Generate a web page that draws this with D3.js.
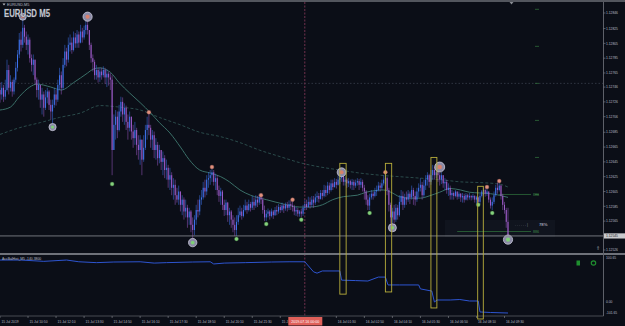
<!DOCTYPE html>
<html><head><meta charset="utf-8">
<script src="https://cdn.jsdelivr.net/npm/d3@7/dist/d3.min.js"></script>
<style>
html,body{margin:0;padding:0;background:#0b0e17;}
svg{display:block;font-family:"Liberation Sans",Arial,sans-serif;}
</style></head><body>
<svg id="chart" width="625" height="326"></svg>
<script>
// EURUSD M5, 15 Jul 09:30 .. 16 Jul 09:40, one entry per bar
// prices are points (0.00001) above 1.12500, open = previous close
const BASE = 1.125;
const firstOpen = 242;
const closes = [236,245,233,242,269,245,253,240,256,272,290,310,303,326,
  314,303,310,285,276,283,256,242,249,229,236,218,232,240,222,213,222,
  236,229,249,262,245,276,294,283,303,306,296,313,305,317,306,321,313,323,330,323,
  303,285,280,262,269,259,267,262,269,259,264,259,256,161,195,
  206,188,213,226,209,218,199,191,206,186,177,188,168,161,175,148,164,188,195,191,175,181,161,168,150,161,145,150,134,137,121,127,110,114,100,94,105,87,94,78,83,70,78,60,53,67,80,78,94,97,110,105,121,123,127,131,
  118,123,107,99,105,87,80,90,73,78,67,60,53,64,73,78,72,80,86,80,88,83,91,86,94,90,98,94,80,70,75,78,72,78,73,80,78,84,80,86,82,87,83,88,86,84,78,80,75,78,75,83,
  88,84,91,87,94,90,97,99,95,103,99,107,103,113,107,116,111,118,114,121,123,127,118,121,116,119,114,118,113,117,119,114,118,110,105,94,86,97,102,99,105,107,113,110,116,121,123,107,
  87,70,78,67,83,73,91,99,87,97,94,102,97,107,99,94,105,110,114,100,113,121,127,118,127,134,127,131,127,121,127,116,118,107,110,100,103,99,105,98,102,97,99,94,100,97,99,97,99,94,97,91,99,105,107,102,105,94,86,91,100,110,107,113,99,87,80,64,45];
const highs = [252,253,249,256,283,276,262,256,259,280,296,319,321,341,
  330,321,317,313,290,290,283,259,256,249,245,240,242,245,242,229,229,
  245,242,256,272,267,285,303,299,313,317,313,321,319,323,321,330,326,329,337,341,
  323,306,290,283,276,272,272,272,274,272,270,267,265,262,209,
  215,213,222,233,232,224,221,209,213,206,195,199,191,181,181,175,181,195,206,212,195,188,186,177,172,168,161,159,154,148,141,137,131,123,121,110,113,105,100,97,94,87,83,80,70,73,87,94,100,107,118,121,127,131,134,138,
  134,129,127,113,110,107,94,94,91,83,80,73,70,73,83,86,83,87,94,91,94,91,99,97,100,99,102,103,97,86,80,82,80,82,80,84,86,88,87,90,88,90,91,93,93,93,87,84,83,80,82,87,
  94,94,98,97,99,99,102,105,103,107,107,114,113,118,117,121,121,123,122,127,129,131,127,125,123,123,121,122,121,121,123,122,123,121,114,107,100,102,107,105,110,113,118,117,121,127,130,125,
  110,90,83,87,88,87,100,107,105,102,105,107,105,113,110,105,110,116,123,118,121,127,131,129,134,141,138,140,140,130,131,127,123,121,116,113,107,105,107,105,105,103,103,102,103,102,103,100,102,100,99,98,102,107,110,109,111,105,97,97,105,114,117,119,114,102,91,83,83];
const lows = [225,229,226,229,240,236,240,233,236,252,267,285,294,299,
  306,296,290,279,267,262,249,232,229,218,209,206,215,224,215,202,192,
  218,221,226,242,236,242,272,274,279,294,291,294,299,299,299,305,306,310,317,317,
  296,279,267,256,256,252,253,256,259,250,246,248,242,127,161,
  175,177,186,206,199,195,188,175,186,175,164,168,154,148,141,127,145,161,175,181,164,161,150,148,140,143,134,127,123,121,110,107,100,94,87,90,87,78,73,67,70,56,60,50,40,46,60,70,73,87,94,97,100,110,114,118,
  113,107,100,91,87,80,72,73,64,60,56,50,45,45,60,70,67,70,78,75,78,78,80,80,83,84,87,88,75,65,65,70,67,70,68,72,73,75,76,78,76,79,78,80,80,78,73,72,71,71,70,72,
  80,80,83,82,84,83,87,91,90,94,94,97,98,100,102,105,107,110,109,113,115,118,113,113,110,111,109,107,107,110,113,107,110,105,94,87,80,80,94,94,97,99,105,105,107,113,115,100,
  78,60,60,61,64,67,71,87,80,83,87,91,88,94,87,86,91,97,105,94,97,107,113,110,114,121,121,123,118,113,115,110,107,102,99,94,94,94,97,94,95,91,90,90,93,93,94,93,94,90,88,86,88,97,100,98,99,90,82,80,88,98,102,105,94,80,75,56,42];

// moving averages: bar index / points
const maFastBars = [0,6,11,17,21,29,35,42,50,53,57,61,63,68,74,80,86,91,97,103,108,114,120,126,131,137,143,152,162,171,177,184,190,196,204,209,219,224,228,234,240,245,251,257,263,268,274,280,285,290];
const maFastVals = [215,219,233,246,250,246,242,252,265,270,272,269,266,252,238,225,211,198,184,165,148,134,130,125,118,107,100,94,88,84,84,87,94,98,100,104,107,103,98,96,96,99,104,109,107,104,103,102,100,97];
const maSlowBars = [0,11,23,34,46,57,68,80,91,103,114,126,137,148,160,171,183,194,205,217,228,240,251,263,274,285,290];
const maSlowVals = [182,191,198,205,211,221,219,215,205,195,185,179,171,161,152,144,138,134,130,127,125,123,121,118,117,115,111];

// swing markers
const bigBars = [13,30,50,110,195,224,251,290];
const bigVals = [341,192,341,36,131,56,138,40];
const bigKind = ['hi','lo','hi','lo','hi','lo','hi','lo'];
const bigR = [3.5,3.6,4.6,4.2,4.4,4,5,4.6];
const dotHiBars = [85,121,149,167,220,278,285];
const dotHiVals = [212,138,100,94,131,111,119];
const dotLoBars = [64,135,152,172,211,273,281];
const dotLoVals = [115,41,61,67,76,87,76];

// trade boxes (bar from, bar to, top price pts, bottom balance value)
const boxFrom = [194,220,246,272.7];
const boxTo = [197.6,223.6,249.4,275.9];
const boxTop = [143,143,151,112];
const boxBottom = [18,23,-55,-157];

// account balance sub-window
const balBars = [0,12,25,38,45,55,65,80,88,95,110,120,122,128,140,155,165,174,179,181,184,194,195,203,210,216,220,221.5,228,239,240,246.5,248,249.5,257,262.5,268,273,274,280,290];
const balVals = [96,96,93,96,92,90,91.5,92,89,90,91.5,92,87,89,90,91.5,92,92,69,66,71,71,50,49,48,57,57,39,39,39,30,25,0,4.6,4.6,5.7,2.3,2.3,-92,-97,-101.65];

const priceTicks = [1.12846,1.12825,1.12805,1.12785,1.12765,1.12746,1.12726,1.12706,1.12685,1.12665,1.12645,1.12625,1.12605,1.12585,1.12565,1.12526];
const bidPrice = 1.12545;
const dottedLevel = 1.12751;
const roundLevels = [1.12851,1.12801,1.12751,1.12701,1.12651,1.12601,1.12551];
const subTicks = [100.65, 0, -101.65];
const subTickText = ['100.65','0.00','-101.65'];
const timeBars = [0,16,32,48,64,80,96,112,128,144,160,192,208,224,240,256,272,288];
const timeLabels = ['15 Jul 2019','15 Jul 10:50','15 Jul 12:10','15 Jul 13:30','15 Jul 14:50','15 Jul 16:10','15 Jul 17:30','15 Jul 18:50','15 Jul 20:10','15 Jul 21:30','15 J','16 Jul 01:30','16 Jul 02:50','16 Jul 04:10','16 Jul 05:30','16 Jul 06:50','16 Jul 08:10','16 Jul 09:30'];
const crossBar = 174;
const crossText = '2019.07.16 00:00';

const W = 625, H = 326, axisX = 603.5;
const svg = d3.select('#chart');
const px = v => BASE + v / 100000;

const x = d3.scaleLinear().domain([0, 290]).range([0, 508]);
const y = d3.scaleLinear().domain([1.12846, 1.12526]).range([13, 250]);
const ySub = d3.scaleLinear().domain([-101.65, 0, 100.65]).range([313, 302, 258]);

svg.append('rect').attr('width', W).attr('height', H).attr('fill', '#0b0e17');

const defs = svg.append('defs');
defs.append('clipPath').attr('id', 'mainClip').append('rect')
  .attr('x', 0).attr('y', 2).attr('width', axisX).attr('height', 251);
defs.append('clipPath').attr('id', 'subClip').append('rect')
  .attr('x', 0).attr('y', 256).attr('width', axisX).attr('height', 60);

const main = svg.append('g').attr('clip-path', 'url(#mainClip)');

// horizontal dotted level
main.append('line')
  .attr('x1', 0).attr('x2', axisX).attr('y1', y(dottedLevel)).attr('y2', y(dottedLevel))
  .attr('stroke', '#3a3f4c').attr('stroke-dasharray', '1.5,2').attr('stroke-width', 0.8);

// small round-level marks
main.selectAll('.lvl').data(roundLevels).join('line')
  .attr('x1', 535).attr('x2', 539).attr('y1', d => y(d)).attr('y2', d => y(d))
  .attr('stroke', '#2f6b3a').attr('stroke-width', 0.8);

// fib box area near the right
main.append('rect').attr('x', 445).attr('y', 220).attr('width', 110).attr('height', 17)
  .attr('fill', '#10141e');
main.append('line').attr('x1', x(285)).attr('x2', 531).attr('y1', y(roundLevels[5])).attr('y2', y(roundLevels[5]))
  .attr('stroke', '#2d6b3a').attr('stroke-width', 0.8);
main.append('line').attr('x1', x(261)).attr('x2', 531).attr('y1', y(roundLevels[6])).attr('y2', y(roundLevels[6]))
  .attr('stroke', '#2d6b3a').attr('stroke-width', 0.8);
main.append('text').attr('x', 533).attr('y', y(roundLevels[5]) + 1.5).attr('font-size', 3.6)
  .attr('fill', '#3f8a4a').text('886');
main.append('text').attr('x', 533).attr('y', y(roundLevels[6]) + 1.5).attr('font-size', 3.6)
  .attr('fill', '#3f8a4a').text('886');
main.append('text').attr('x', 515).attr('y', 225.5).attr('font-size', 3.6)
  .attr('fill', '#8a8d96').text('. . . . . . |');
main.append('text').attr('x', 539).attr('y', 225.5).attr('font-size', 4.2)
  .attr('fill', '#d8dae0').text('78%');

// vertical crosshair line
svg.append('line')
  .attr('x1', x(crossBar)).attr('x2', x(crossBar)).attr('y1', 2).attr('y2', 316)
  .attr('stroke', '#8c3a5c').attr('stroke-dasharray', '2,1.5').attr('stroke-width', 0.8);

// moving averages
const maLine = d3.line().x(d => x(d[0])).y(d => y(px(d[1]))).curve(d3.curveMonotoneX);
main.append('path').datum(d3.zip(maSlowBars, maSlowVals)).attr('d', maLine)
  .attr('fill', 'none').attr('stroke', '#2b4b4b').attr('stroke-width', 1)
  .attr('stroke-dasharray', '3,2');
main.append('path').datum(d3.zip(maFastBars, maFastVals)).attr('d', maLine)
  .attr('fill', 'none').attr('stroke', '#3b6f68').attr('stroke-width', 1);

// candles
const bars = closes.map((c, i) => {
  const o = i === 0 ? firstOpen : closes[i - 1];
  return {i, o, c, h: Math.max(highs[i], o, c), l: Math.min(lows[i], o, c)};
});
const candleColor = d => Math.abs(d.c - d.o) <= 1 ? '#d08a2c' : (d.c > d.o ? '#3f74f0' : '#a05ccc');
const cg = main.append('g');
cg.selectAll('line').data(bars).join('line')
  .attr('x1', d => x(d.i)).attr('x2', d => x(d.i))
  .attr('y1', d => y(px(d.h))).attr('y2', d => y(px(d.l)))
  .attr('stroke', candleColor).attr('stroke-width', 0.5);
cg.selectAll('rect').data(bars).join('rect')
  .attr('x', d => x(d.i) - 0.5).attr('width', 1)
  .attr('y', d => y(px(Math.max(d.o, d.c))))
  .attr('height', d => Math.max(0.8, y(px(Math.min(d.o, d.c))) - y(px(Math.max(d.o, d.c)))))
  .attr('fill', candleColor);

// bid line
svg.append('line').attr('x1', 0).attr('x2', axisX).attr('y1', y(bidPrice)).attr('y2', y(bidPrice))
  .attr('stroke', '#8b8e96').attr('stroke-width', 0.8);

// swing markers
const bigData = d3.range(bigBars.length).map(k => ({b: bigBars[k], v: bigVals[k], kind: bigKind[k], r: bigR[k]}));
main.selectAll('.big').data(bigData).join('circle')
  .attr('cx', d => x(d.b)).attr('cy', d => y(px(d.v))).attr('r', d => d.r)
  .attr('fill', '#8b8aa6').attr('stroke', '#c9c9d8').attr('stroke-width', 0.8);
main.selectAll('.bigIn').data(bigData).join('circle')
  .attr('cx', d => x(d.b)).attr('cy', d => y(px(d.v))).attr('r', d => d.r * 0.45)
  .attr('fill', d => d.kind === 'hi' ? '#d8806c' : '#7fcf78');
main.selectAll('.dh').data(d3.zip(dotHiBars, dotHiVals)).join('circle')
  .attr('cx', d => x(d[0])).attr('cy', d => y(px(d[1]))).attr('r', 2)
  .attr('fill', '#e0907c').attr('stroke', '#7a4a48').attr('stroke-width', 0.4);
main.selectAll('.dl').data(d3.zip(dotLoBars, dotLoVals)).join('circle')
  .attr('cx', d => x(d[0])).attr('cy', d => y(px(d[1]))).attr('r', 2)
  .attr('fill', '#84d07c').attr('stroke', '#3d6a3c').attr('stroke-width', 0.4);

// frame lines
svg.append('rect').attr('x', 0).attr('y', 0).attr('width', W).attr('height', 2).attr('fill', '#53565e');
svg.append('rect').attr('x', 0).attr('y', 253).attr('width', W).attr('height', 2).attr('fill', '#6f727a');
svg.append('line').attr('x1', 0).attr('x2', axisX).attr('y1', 316).attr('y2', 316).attr('stroke', '#484b53').attr('stroke-width', 1);
svg.append('line').attr('x1', axisX).attr('x2', axisX).attr('y1', 2).attr('y2', 316).attr('stroke', '#5d6069').attr('stroke-width', 1);
svg.append('path').attr('d', `M${x(292) - 2},2 L${x(292) + 2},2 L${x(292)},4.5 Z`).attr('fill', '#8a8d94');

// price axis
const pa = svg.append('g');
pa.selectAll('line').data(priceTicks).join('line')
  .attr('x1', axisX).attr('x2', axisX + 2).attr('y1', d => y(d)).attr('y2', d => y(d))
  .attr('stroke', '#8a8d94').attr('stroke-width', 0.6);
pa.selectAll('text').data(priceTicks).join('text')
  .attr('x', 606).attr('y', d => y(d) + 1.2).attr('font-size', 3.3)
  .attr('fill', '#b9bcc4').text(d => d.toFixed(5));
pa.append('rect').attr('x', 604).attr('y', y(bidPrice) - 2.6).attr('width', 21).attr('height', 5.2).attr('fill', '#c9cacd');
pa.append('text').attr('x', 606).attr('y', y(bidPrice) + 1.2).attr('font-size', 3.3)
  .attr('fill', '#1a1d24').text(bidPrice.toFixed(5));

// sub-window
const sub = svg.append('g').attr('clip-path', 'url(#subClip)');
sub.append('path').datum(d3.zip(balBars, balVals))
  .attr('d', d3.line().x(d => x(d[0])).y(d => ySub(d[1])))
  .attr('fill', 'none').attr('stroke', '#2e55d0').attr('stroke-width', 1);
svg.append('text').attr('x', 2).attr('y', 259.5).attr('font-size', 3.4)
  .attr('fill', '#b9bcc4').text('AccBalHist_M5 -140.3800');
svg.selectAll('.st').data(subTicks).join('text')
  .attr('x', 606).attr('y', (d, k) => ySub(d) + 1.2).attr('font-size', 3.3)
  .attr('fill', '#b9bcc4').text((d, k) => subTickText[k]);
svg.append('rect').attr('x', 576.5).attr('y', 260.5).attr('width', 3.5).attr('height', 5).attr('fill', '#1f8f2f');
svg.append('circle').attr('cx', 593.5).attr('cy', 263).attr('r', 2.2).attr('fill', 'none').attr('stroke', '#1f8f2f').attr('stroke-width', 1.2);
svg.append('text').attr('x', 595.5).attr('y', 250).attr('font-size', 4.5).attr('fill', '#9a9da5').text('⇑');

// trade boxes
svg.selectAll('.box').data(d3.range(boxFrom.length)).join('rect')
  .attr('x', k => x(boxFrom[k])).attr('width', k => x(boxTo[k]) - x(boxFrom[k]))
  .attr('y', k => y(px(boxTop[k]))).attr('height', k => ySub(boxBottom[k]) - y(px(boxTop[k])))
  .attr('fill', 'none').attr('stroke', '#b9ae3c').attr('stroke-width', 0.9);

// time axis
const ta = svg.append('g');
ta.selectAll('line').data(timeBars).join('line')
  .attr('x1', d => x(d)).attr('x2', d => x(d)).attr('y1', 316).attr('y2', 318)
  .attr('stroke', '#8a8d94').attr('stroke-width', 0.6);
ta.selectAll('text').data(timeBars).join('text')
  .attr('x', (d, k) => x(d) + 1.5).attr('y', 322.5).attr('font-size', 3.3)
  .attr('fill', '#b9bcc4').text((d, k) => timeLabels[k]);
ta.append('rect').attr('x', x(crossBar) - 16.5).attr('y', 317).attr('width', 34).attr('height', 8.5).attr('fill', '#e0605a');
ta.append('text').attr('x', x(crossBar) + 0.5).attr('y', 322.5).attr('text-anchor', 'middle').attr('font-size', 3.6)
  .attr('fill', '#ffffff').text(crossText);

// titles
svg.append('path').attr('d', 'M2.5,3.5 L5.5,3.5 L4,5.5 Z').attr('fill', '#b9bcc4');
svg.append('text').attr('x', 7).attr('y', 6).attr('font-size', 3.8).attr('fill', '#b9bcc4').text('EURUSD,M5');
svg.append('text').attr('x', 4).attr('y', 17).attr('font-size', 10.5).attr('font-weight', 'bold')
  .attr('textLength', 46).attr('lengthAdjust', 'spacingAndGlyphs')
  .attr('fill', '#c3c6d0').attr('stroke', '#3a3e48').attr('stroke-width', 0.6).attr('paint-order', 'stroke')
  .text('EURUSD M5');
</script>
</body></html>
